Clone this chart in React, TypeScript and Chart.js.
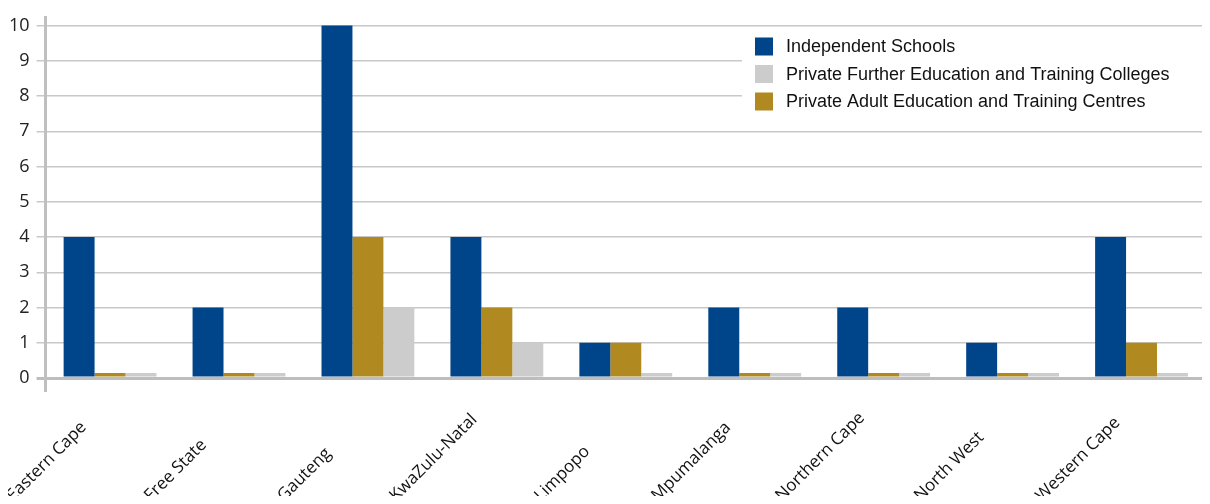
import React, { useEffect, useRef } from "react";
import { Chart, registerables } from "chart.js";

Chart.register(...registerables);

const categories = [
  "Eastern Cape",
  "Free State",
  "Gauteng",
  "KwaZulu-Natal",
  "Limpopo",
  "Mpumalanga",
  "Northern Cape",
  "North West",
  "Western Cape",
];
const independentSchools = [4, 2, 10, 4, 1, 2, 2, 1, 4];
const adultCentres = [0, 0, 4, 2, 1, 0, 0, 0, 1];
const fetColleges = [0, 0, 2, 1, 0, 0, 0, 0, 0];
const yTickValues = [0, 1, 2, 3, 4, 5, 6, 7, 8, 9, 10];
const seriesLabels = [
  "Independent Schools",
  "Private Adult Education and Training Centres",
  "Private Further Education and Training Colleges",
];
const seriesColors = ["#004489", "#b08a20", "#cccccc"];
const legendOrder = [0, 2, 1];

const boxLegend = {
  id: "boxLegend",
  afterDatasetsDraw(chart: any) {
    const { ctx } = chart;
    const left = 742;
    const top = 31;
    ctx.save();
    ctx.fillStyle = "#ffffff";
    ctx.fillRect(left, top, 480, 84);
    ctx.font = '18px "Liberation Sans", Arial, sans-serif';
    ctx.textBaseline = "middle";
    legendOrder.forEach((di, i) => {
      const ds = chart.data.datasets[di];
      const cy = top + 15.5 + i * 27.5;
      ctx.fillStyle = ds.backgroundColor;
      ctx.fillRect(left + 13, cy - 9, 18, 18);
      ctx.fillStyle = "#111111";
      ctx.fillText(ds.label, left + 44, cy + 1);
    });
    ctx.restore();
  },
};

const slantedLabels = {
  id: "slantedLabels",
  afterDraw(chart: any) {
    const { ctx } = chart;
    const xs = chart.scales.x;
    const c = Math.SQRT1_2;
    ctx.save();
    ctx.font = '17px "Open Sans", sans-serif';
    ctx.fillStyle = "#111111";
    ctx.textAlign = "left";
    ctx.textBaseline = "alphabetic";
    xs.getLabels().forEach((label: string, i: number) => {
      const w = ctx.measureText(label).width;
      const x0 = xs.getPixelForTick(i) - 60 - (w / 2) * c;
      const y0 = 502;
      ctx.save();
      ctx.translate(x0, y0);
      ctx.rotate(-Math.PI / 4);
      ctx.fillText(label, 0, 0);
      ctx.restore();
    });
    ctx.restore();
  },
};

export default function App() {
  const ref = useRef<HTMLCanvasElement | null>(null);
  useEffect(() => {
    if (!ref.current) return;
    const chart = new Chart(ref.current, {
      type: "bar",
      data: {
        labels: categories,
        datasets: [independentSchools, adultCentres, fetColleges].map((d, i) => ({
          label: seriesLabels[i],
          data: d,
          backgroundColor: seriesColors[i],
          borderWidth: 0,
          barPercentage: 1,
          categoryPercentage: 0.72,
          minBarLength: 5,
        })),
      },
      options: {
        animation: false,
        responsive: true,
        maintainAspectRatio: false,
        layout: { padding: { top: 14, right: 0, left: 2, bottom: 0 } },
        plugins: {
          legend: { display: false },
          tooltip: { enabled: false },
        },
        scales: {
          x: {
            offset: true,
            afterFit: (scale: any) => {
              scale.height = 126;
            },
            grid: {
              display: true,
              drawOnChartArea: false,
              drawTicks: true,
              tickLength: 14,
              lineWidth: 3,
              color: (c: any) => (c.index === 0 ? "#bfbfbf" : "rgba(0,0,0,0)"),
            },
            border: { display: false },
            ticks: { display: false, autoSkip: false },
          },
          y: {
            min: 0,
            max: 10.22,
            afterBuildTicks: (scale: any) => {
              scale.ticks = yTickValues.map((v) => ({ value: v }));
            },
            grid: {
              tickLength: 9,
              color: (c: any) => (c.tick && c.tick.value === 0 ? "#bdbdbd" : "#c8c8c8"),
              lineWidth: (c: any) => (c.tick && c.tick.value === 0 ? 3 : 1.5),
            },
            border: { display: true, color: "#bfbfbf", width: 3 },
            ticks: {
              padding: 7,
              color: "#222222",
              font: { family: '"Open Sans", sans-serif', size: 18 },
            },
          },
        },
      },
      plugins: [boxLegend, slantedLabels],
    });
    return () => chart.destroy();
  }, []);
  return (
    <div
      style={{
        marginLeft: -8,
        marginTop: -8,
        marginBottom: -8,
        width: 1210,
        height: 504,
        overflow: "hidden",
        position: "relative",
      }}
    >
      <div style={{ position: "relative", width: 1206, height: 504 }}>
        <canvas ref={ref} />
      </div>
    </div>
  );
}
